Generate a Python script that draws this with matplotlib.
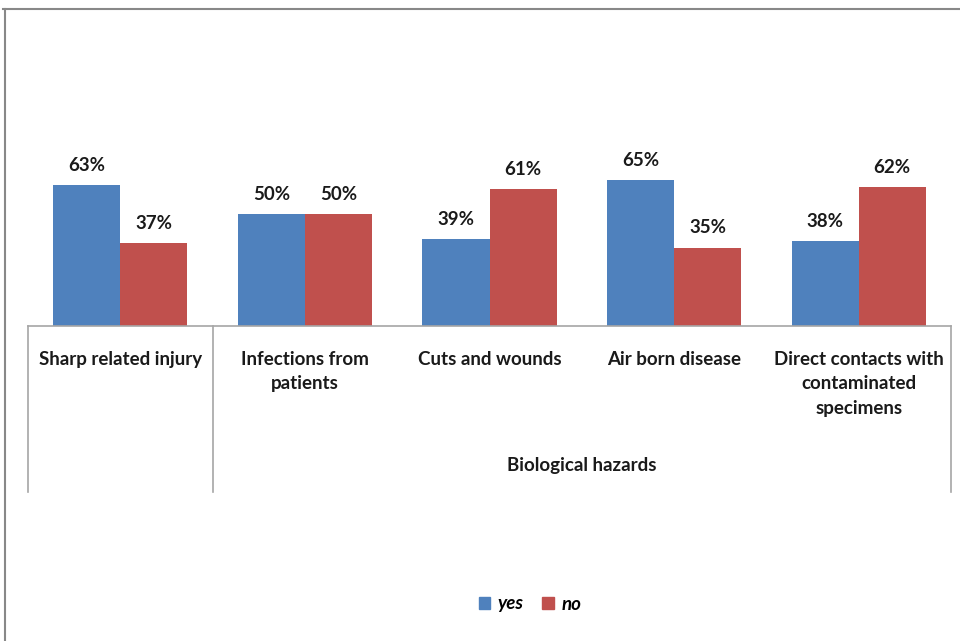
import matplotlib.pyplot as plt
import matplotlib.transforms as mtransforms
from matplotlib.lines import Line2D
from matplotlib.patches import Patch
import numpy as np

# hazard categories and survey answers (%)
categories = ["Sharp related injury", "Infections from\npatients", "Cuts and wounds",
              "Air born disease", "Direct contacts with\ncontaminated\nspecimens"]
yes_pct = [63, 50, 39, 65, 38]
no_pct = [37, 50, 61, 35, 62]
group_label = "Biological hazards"

blue = "#4F81BD"
red = "#C0504D"
grey = "#A6A6A6"
font = "Lato"
fs = 13.5

fig = plt.figure(figsize=(9.6, 6.41), dpi=100)
ax = fig.add_axes([28 / 960, 1 - 326 / 641, 923 / 960, 224 / 641])

x = np.arange(len(categories))
w = 0.363
b1 = ax.bar(x - w / 2, yes_pct, w, color=blue, label="yes")
b2 = ax.bar(x + w / 2, no_pct, w, color=red, label="no")

for bars, vals in [(b1, yes_pct), (b2, no_pct)]:
    for rect, v in zip(bars, vals):
        ax.annotate(f"{v}%", (rect.get_x() + rect.get_width() / 2, v),
                    xytext=(0, 8), textcoords="offset points",
                    ha="center", va="bottom", fontsize=fs,
                    fontweight="bold", family=font, color="#1a1a1a")

ax.set_xlim(-0.5, len(categories) - 0.5)
ax.set_ylim(0, 100)
ax.set_xticks([])
ax.set_yticks([])
for s in ["left", "right", "top"]:
    ax.spines[s].set_visible(False)
ax.spines["bottom"].set_color(grey)
ax.spines["bottom"].set_linewidth(1.2)

# two-level category axis
trans = mtransforms.blended_transform_factory(ax.transData, ax.transAxes)
for sx in [-0.5, 0.5, len(categories) - 0.5]:
    ax.add_line(Line2D([sx, sx], [0, -0.74], transform=trans, color=grey,
                       lw=1.2, clip_on=False))

for i, c in enumerate(categories):
    ax.text(i, -0.11, c, transform=trans, ha="center", va="top",
            fontsize=fs, fontweight="bold", family=font, color="#1a1a1a",
            linespacing=1.55)

ax.text((0.5 + len(categories) - 0.5) / 2, -0.625, group_label, transform=trans,
        ha="center", va="center", fontsize=fs, fontweight="bold",
        family=font, color="#1a1a1a")

# chart frame
fig.add_artist(Line2D([3 / 960, 1], [1 - 8.5 / 641] * 2, color="#888888", lw=1.5))
fig.add_artist(Line2D([4.5 / 960] * 2, [0, 1 - 8.5 / 641], color="#888888", lw=1.5))

handles = [Patch(color=blue, label="yes"), Patch(color=red, label="no")]
fig.legend(handles=handles, loc="center", bbox_to_anchor=(530 / 960, 1 - 604 / 641),
           ncol=2, frameon=False, handlelength=0.6, handleheight=0.6,
           handletextpad=0.4, columnspacing=1.0,
           prop={"family": font, "style": "italic", "weight": "bold", "size": fs})

fig.savefig("out.png", dpi=100)
